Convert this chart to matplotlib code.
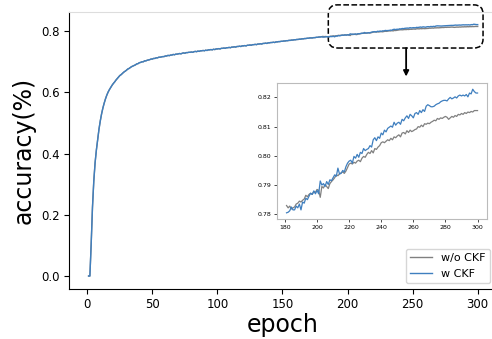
import matplotlib
matplotlib.use("Agg")
import matplotlib.pyplot as plt
import numpy as np
from matplotlib.patches import FancyBboxPatch

# accuracy for epochs 1..180 (both runs overlap here)
acc_head = [
    0.000, 0.000, 0.105, 0.225, 0.310, 0.370, 0.412, 0.447, 0.480, 0.507,
    0.530, 0.549, 0.565, 0.579, 0.591, 0.601, 0.609, 0.616, 0.623, 0.629,
    0.634, 0.640, 0.645, 0.650, 0.655, 0.658, 0.662, 0.666, 0.669, 0.672,
    0.676, 0.678, 0.681, 0.684, 0.686, 0.688, 0.690, 0.693, 0.694, 0.697,
    0.698, 0.700, 0.700, 0.703, 0.703, 0.705, 0.706, 0.707, 0.709, 0.709,
    0.711, 0.711, 0.713, 0.713, 0.715, 0.715, 0.716, 0.717, 0.717, 0.719,
    0.719, 0.721, 0.720, 0.722, 0.722, 0.724, 0.723, 0.725, 0.725, 0.726,
    0.727, 0.726, 0.728, 0.729, 0.728, 0.730, 0.730, 0.731, 0.731, 0.732,
    0.731, 0.733, 0.734, 0.733, 0.735, 0.734, 0.736, 0.736, 0.737, 0.736,
    0.738, 0.737, 0.739, 0.739, 0.740, 0.739, 0.741, 0.740, 0.742, 0.742,
    0.743, 0.742, 0.744, 0.744, 0.745, 0.744, 0.746, 0.746, 0.747, 0.746,
    0.748, 0.748, 0.749, 0.748, 0.750, 0.750, 0.751, 0.750, 0.752, 0.752,
    0.753, 0.752, 0.754, 0.754, 0.755, 0.754, 0.756, 0.756, 0.757, 0.756,
    0.758, 0.758, 0.759, 0.758, 0.760, 0.760, 0.761, 0.760, 0.762, 0.762,
    0.763, 0.763, 0.764, 0.763, 0.765, 0.765, 0.766, 0.766, 0.767, 0.767,
    0.768, 0.768, 0.769, 0.769, 0.770, 0.770, 0.771, 0.771, 0.772, 0.772,
    0.773, 0.773, 0.774, 0.774, 0.775, 0.775, 0.776, 0.776, 0.777, 0.777,
    0.778, 0.778, 0.778, 0.779, 0.779, 0.780, 0.780, 0.781, 0.781, 0.782,
]

# epochs 181..300, without CKF
acc_wo_tail = [
    0.7830, 0.7822, 0.7828, 0.7818, 0.7822, 0.7825, 0.7835, 0.7838, 0.7845, 0.7842,
    0.7848, 0.7852, 0.7865, 0.7860, 0.7868, 0.7872, 0.7868, 0.7878, 0.7875, 0.7885,
    0.7882, 0.7858, 0.7895, 0.7890, 0.7902, 0.7895, 0.7888, 0.7905, 0.7912, 0.7918,
    0.7925, 0.7935, 0.7932, 0.7938, 0.7942, 0.7945, 0.7940, 0.7948, 0.7960, 0.7972,
    0.7975, 0.7972, 0.7978, 0.7975, 0.7982, 0.7985, 0.7980, 0.7992, 0.7998, 0.7995,
    0.8005, 0.8012, 0.8008, 0.8018, 0.8010, 0.8025, 0.8022, 0.8030, 0.8035, 0.8045,
    0.8048, 0.8045, 0.8050, 0.8055, 0.8052, 0.8060, 0.8055, 0.8065, 0.8062, 0.8068,
    0.8072, 0.8065, 0.8078, 0.8080, 0.8075, 0.8086, 0.8080, 0.8088, 0.8083, 0.8086,
    0.8090, 0.8092, 0.8100, 0.8098, 0.8105, 0.8100, 0.8110, 0.8108, 0.8112, 0.8110,
    0.8115, 0.8118, 0.8122, 0.8120, 0.8128, 0.8125, 0.8130, 0.8128, 0.8132, 0.8135,
    0.8132, 0.8125, 0.8130, 0.8135, 0.8132, 0.8138, 0.8135, 0.8142, 0.8140, 0.8145,
    0.8142, 0.8148, 0.8145, 0.8150, 0.8148, 0.8152, 0.8150, 0.8155, 0.8155, 0.8155,
]

# epochs 181..300, with CKF
acc_w_tail = [
    0.7805, 0.7807, 0.7812, 0.7825, 0.7815, 0.7815, 0.7828, 0.7822, 0.7835, 0.7815,
    0.7842, 0.7838, 0.7855, 0.7850, 0.7862, 0.7872, 0.7868, 0.7880, 0.7870, 0.7882,
    0.7870, 0.7914, 0.7900, 0.7905, 0.7895, 0.7912, 0.7902, 0.7918, 0.7915, 0.7925,
    0.7935, 0.7930, 0.7958, 0.7938, 0.7940, 0.7950, 0.7945, 0.7963, 0.7975, 0.7982,
    0.7985, 0.7975, 0.7998, 0.7992, 0.8005, 0.7995, 0.8012, 0.8008, 0.8025, 0.8018,
    0.8022, 0.8025, 0.8035, 0.8030, 0.8055, 0.8062, 0.8052, 0.8065, 0.8060, 0.8078,
    0.8072, 0.8088, 0.8082, 0.8094, 0.8098, 0.8102, 0.8098, 0.8115, 0.8105, 0.8112,
    0.8115, 0.8108, 0.8125, 0.8120, 0.8130, 0.8137, 0.8128, 0.8142, 0.8137, 0.8130,
    0.8145, 0.8148, 0.8142, 0.8155, 0.8148, 0.8158, 0.8152, 0.8170, 0.8175, 0.8172,
    0.8168, 0.8168, 0.8170, 0.8175, 0.8178, 0.8180, 0.8185, 0.8188, 0.8190, 0.8190,
    0.8188, 0.8195, 0.8200, 0.8195, 0.8198, 0.8202, 0.8198, 0.8205, 0.8208, 0.8205,
    0.8208, 0.8205, 0.8210, 0.8202, 0.8215, 0.8212, 0.8228, 0.8220, 0.8215, 0.8215,
]

epochs = np.arange(1, 301)
acc_wo = acc_head + acc_wo_tail
acc_w = acc_head + acc_w_tail

grey = "#808080"
blue = "#3f7fbf"

fig = plt.figure(figsize=(4.92, 3.39), dpi=100)
ax = fig.add_axes([0.1405, 0.1487, 0.870, 0.817])

ax.plot(epochs, acc_wo, color=grey, lw=1.0, label="w/o CKF")
ax.plot(epochs, acc_w, color=blue, lw=1.0, label="w CKF")

ax.set_xticks([0, 50, 100, 150, 200, 250, 300])
ax.set_yticks([0.0, 0.2, 0.4, 0.6, 0.8])
ax.tick_params(labelsize=8.5)
ax.set_xlabel("epoch", fontsize=17, labelpad=1)
ax.set_ylabel("accuracy(%)", fontsize=17)
ax.spines["top"].set_color("#dddddd")
ax.spines["right"].set_visible(False)

ax.legend(loc="lower right", bbox_to_anchor=(490 / 492, 56 / 339),
          bbox_transform=fig.transFigure, borderaxespad=0, fontsize=8)

# dashed box marking the zoomed region + arrow
box = FancyBboxPatch((185.2, 0.745), 118.9, 0.141,
                     boxstyle="round,pad=0,rounding_size=7",
                     mutation_aspect=1.3 / 306,
                     fill=False, ls="--", lw=1.1, ec="black", clip_on=False)
ax.add_patch(box)
ax.annotate("", xy=(245, 0.652), xytext=(245, 0.745),
            arrowprops=dict(arrowstyle="-|>", color="black", lw=1.3,
                            mutation_scale=8, shrinkA=0, shrinkB=0),
            annotation_clip=False)

# inset
axin = fig.add_axes([0.563, 0.354, 0.427, 0.401])
axin.plot(epochs[180:], acc_wo[180:], color=grey, lw=0.9)
axin.plot(epochs[180:], acc_w[180:], color=blue, lw=0.9)
axin.set_xticks([180, 200, 220, 240, 260, 280, 300])
axin.set_yticks([0.78, 0.79, 0.80, 0.81, 0.82])
axin.tick_params(labelsize=4.5, length=2, width=0.5, pad=2)
for s in axin.spines.values():
    s.set_color("#bbbbbb")
    s.set_linewidth(0.8)

fig.savefig("out.png", dpi=100)
